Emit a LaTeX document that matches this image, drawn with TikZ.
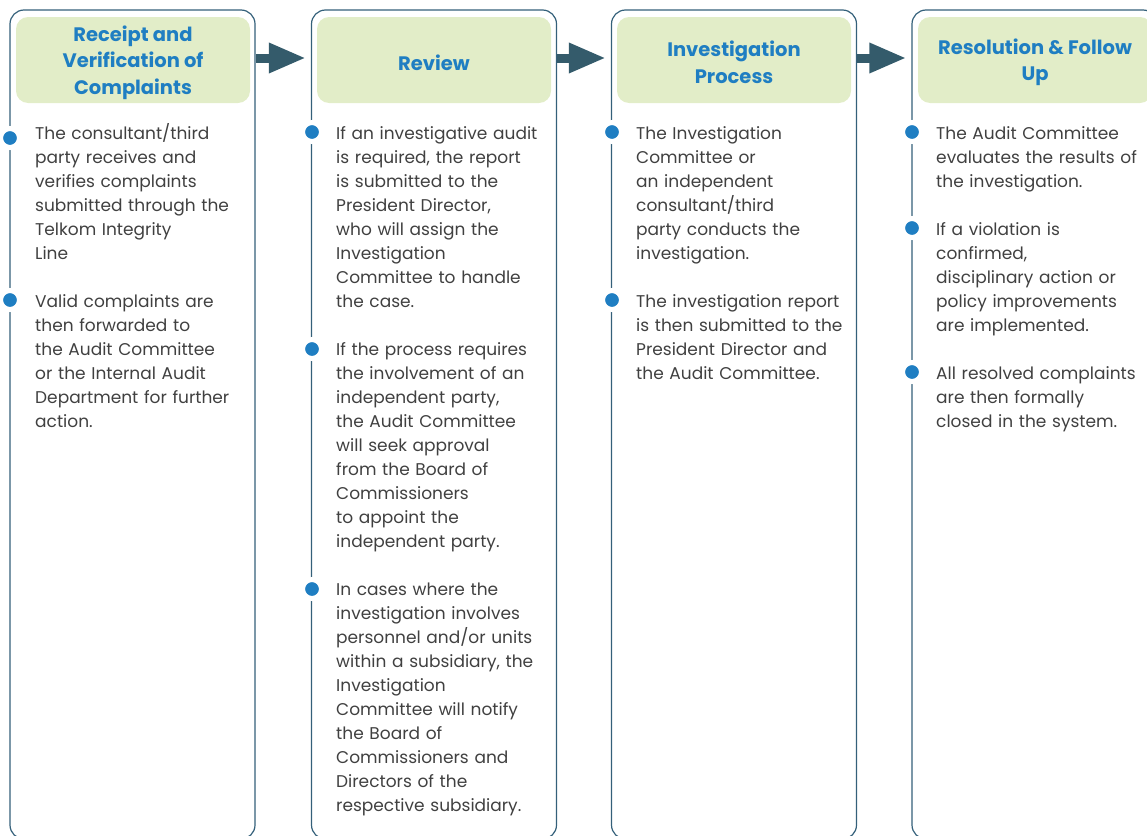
\documentclass[tikz,border=0pt]{standalone}
\usepackage{fontspec}
\setmainfont{Poppins}
\usetikzlibrary{arrows.meta,positioning}

\definecolor{edge}{HTML}{34607A}
\definecolor{flow}{HTML}{345B6B}
\definecolor{headfill}{HTML}{E2EDC8}
\definecolor{headtext}{HTML}{1F7EC2}
\definecolor{body}{HTML}{404040}

\begin{document}
\begin{tikzpicture}[x=1pt, y=-1pt,
  col/.style={draw=edge, line width=1.2pt, rounded corners=14pt,
    minimum width=245pt, minimum height=829pt, inner sep=0pt},
  head/.style={fill=headfill, rounded corners=12pt, minimum width=234pt,
    minimum height=86pt},
  ttl/.style={align=center, text=headtext, inner sep=0pt,
    font=\fontsize{19.5}{26.5}\selectfont\bfseries},
  txt/.style={anchor=base west, inner sep=0pt, text width=215pt,
    align=left, text=body, font=\fontsize{17}{24}\selectfont},
  dot/.style={circle, fill=headtext, draw=white, line width=5pt,
    minimum size=19pt, inner sep=0pt},
  link/.style={draw=flow, line width=9pt,
    -{Triangle[length=37pt, width=28pt]}},
]
  \useasboundingbox (0,0) rectangle (1147,835);
  \clip (0,0) rectangle (1147,835);
  % Column frames
  \foreach \x [count=\i] in {132.5, 434, 734, 1034.5}{
    \node[col] (c\i) at (\x, 424.5) {};
  }
  % Stage headers
  \foreach \x [count=\i] in {133, 434, 734, 1035}{
    \node[head] (h\i) at (\x, 60) {};
  }
  \node[ttl] (n1) at ([yshift=-2.5pt]h1.center) {Receipt and\\Verification of\\Complaints};
  \node[ttl] (n2) at ([yshift=-2.5pt]h2.center) {Review};
  \node[ttl] (n3) at ([yshift=-2.5pt]h3.center) {Investigation\\Process};
  \node[ttl] (n4) at ([yshift=-2.5pt]h4.center) {Resolution \& Follow\\Up};
  % Arrows between stages
  \foreach \i [evaluate=\i as \j using int(\i+1)] in {1,2,3}{
    \draw[link] (c\i.east |- 0,58) -- ([xshift=-5pt]c\j.west |- 0,58);
  }
  % Receipt and verification
  \node[dot] (d11) at (10, 138) {};
  \node[txt] (t11) at (35, 139) {The consultant/third\\party receives and\\verifies complaints\\submitted through the\\Telkom Integrity\\Line};
  \node[dot] (d12) at (10, 300) {};
  \node[txt] (t12) at (35, 307) {Valid complaints are\\then forwarded to\\the Audit Committee\\or the Internal Audit\\Department for further\\action.};
  % Review
  \node[dot] (d21) at (312, 132) {};
  \node[txt] (t21) at (336, 139) {If an investigative audit\\is required, the report\\is submitted to the\\President Director,\\who will assign the\\Investigation\\Committee to handle\\the case.};
  \node[dot] (d22) at (312, 349) {};
  \node[txt] (t22) at (336, 355) {If the process requires\\the involvement of an\\independent party,\\the Audit Committee\\will seek approval\\from the Board of\\Commissioners\\to appoint the\\independent party.};
  \node[dot] (d23) at (312, 589) {};
  \node[txt] (t23) at (336, 595) {In cases where the\\investigation involves\\personnel and/or units\\within a subsidiary, the\\Investigation\\Committee will notify\\the Board of\\Commissioners and\\Directors of the\\respective subsidiary.};
  % Investigation process
  \node[dot] (d31) at (612, 132) {};
  \node[txt] (t31) at (636, 139) {The Investigation\\Committee or\\an independent\\consultant/third\\party conducts the\\investigation.};
  \node[dot] (d32) at (612, 300) {};
  \node[txt] (t32) at (636, 307) {The investigation report\\is then submitted to the\\President Director and\\the Audit Committee.};
  % Resolution and follow up
  \node[dot] (d41) at (912, 132) {};
  \node[txt] (t41) at (936, 139) {The Audit Committee\\evaluates the results of\\the investigation.};
  \node[dot] (d42) at (912, 228) {};
  \node[txt] (t42) at (936, 235) {If a violation is\\confirmed,\\disciplinary action or\\policy improvements\\are implemented.};
  \node[dot] (d43) at (912, 372) {};
  \node[txt] (t43) at (936, 379) {All resolved complaints\\are then formally\\closed in the system.};
\end{tikzpicture}
\end{document}
